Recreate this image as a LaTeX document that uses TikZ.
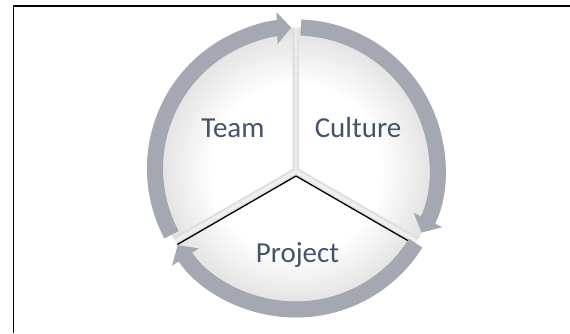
\documentclass[tikz,border=0pt]{standalone}
\usepackage{fontspec}
\setmainfont{Carlito}
\usetikzlibrary{arrows.meta,calc}
\definecolor{ringgray}{RGB}{164,168,178}
\definecolor{txt}{RGB}{68,84,106}
\pgfdeclareradialshading{sectfill}{\pgfpoint{0bp}{0bp}}{color(0bp)=(white); color(15bp)=(white); color(25bp)=(black!12); color(50bp)=(black!12)}
\begin{document}
\begin{tikzpicture}[x=1pt,y=1pt,
  ring/.style={draw=ringgray, line width=16pt, -{Triangle[width=31pt,length=14pt]}},
  ringshadow/.style={draw=black, opacity=0.10, line width=16pt, -{Triangle[width=31pt,length=14pt]}},
  lbl/.style={text=txt, font=\fontsize{29}{33}\selectfont, anchor=base, inner sep=0pt},
  divider/.style={draw=black, line width=1.3pt},
  halo/.style={draw=black, opacity=0.05, line width=#1}]
\useasboundingbox (0,0) rectangle (570,333);
% frame (only top and left edges visible)
\draw[line width=1.5pt] (13.5,0) -- (13.5,327) -- (570,327);
\coordinate (C) at (296,164.5);
\coordinate (T) at (292.5,164);
\coordinate (U) at (299.5,164);
\coordinate (P) at (296,157);
% sector shadows
\foreach \w in {8,5,2.5}{
  \begin{scope}
    \clip (C) circle (141);
    \draw[halo=\w pt] (T) -- +(90:300) -- +(150:300) -- +(210:300) -- cycle;
    \draw[halo=\w pt] (U) -- +(90:300) -- +(30:300) -- +(-30:300) -- cycle;
    \draw[halo=\w pt] (P) -- +(210:300) -- +(270:300) -- +(330:300) -- cycle;
  \end{scope}
}
% sector fills
\begin{scope}
  \clip (C) circle (141);
  \clip (T) -- +(90:300) -- +(150:300) -- +(210:300) -- cycle;
  \shade[shading=sectfill] (C) circle (141);
\end{scope}
\begin{scope}
  \clip (C) circle (141);
  \clip (U) -- +(90:300) -- +(30:300) -- +(-30:300) -- cycle;
  \shade[shading=sectfill] (C) circle (141);
\end{scope}
\begin{scope}
  \clip (C) circle (141);
  \clip (P) -- +(210:300) -- +(270:300) -- +(330:300) -- cycle;
  \shade[shading=sectfill] (C) circle (141);
\end{scope}
% black edges of the Project sector
\coordinate (pl) at ($(P)+(210:137)$);
\coordinate (pr) at ($(P)+(330:137)$);
\draw[divider] (P) -- (pl);
\draw[divider] (P) -- (pr);
% ring arrows
\coordinate (a1) at ($(C)+(208:141)$);
\coordinate (a2) at ($(C)+(88:141)$);
\coordinate (a3) at ($(C)+(-32:141)$);
\begin{scope}[shift={(1,-2.5)}]
  \draw[ringshadow] (a1) arc[start angle=208, end angle=92, radius=141];
  \draw[ringshadow] (a2) arc[start angle=88, end angle=-27, radius=141];
  \draw[ringshadow] (a3) arc[start angle=-32, end angle=-147, radius=141];
\end{scope}
\draw[ring] (a1) arc[start angle=208, end angle=92, radius=141];
\draw[ring] (a2) arc[start angle=88, end angle=-27, radius=141];
\draw[ring] (a3) arc[start angle=-32, end angle=-147, radius=141];
% labels
\node[lbl] (team) at (233,196) {Team};
\node[lbl] (culture) at (358,196) {Culture};
\node[lbl] (project) at (297.5,71) {Project};
\end{tikzpicture}
\end{document}
